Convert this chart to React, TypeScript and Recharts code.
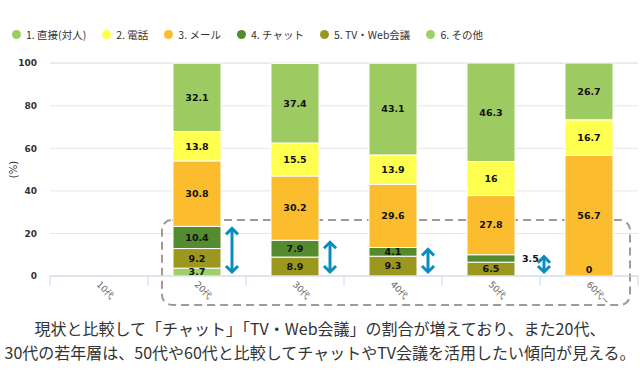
import React from 'react'
import { BarChart, Bar, XAxis, YAxis, CartesianGrid, Legend, ReferenceArea, Rectangle, LabelList } from 'recharts'

const AGE_GROUPS = ['10代', '20代', '30代', '40代', '50代', '60代~']

// series values per age group (null = no answer shown)
const FACE_TO_FACE = [null, 32.1, 37.4, 43.1, 46.3, 26.7]
const PHONE = [null, 13.8, 15.5, 13.9, 16, 16.7]
const MAIL = [null, 30.8, 30.2, 29.6, 27.8, 56.7]
const CHAT = [null, 10.4, 7.9, 4.1, 3.5, null]
const VIDEO = [null, 9.2, 8.9, 9.3, 6.5, 0]
const OTHER = [null, 3.7, null, null, null, null]

const Y_TICKS = [0, 20, 40, 60, 80, 100]

const CAPTION = [
  '現状と比較して「チャット」「TV・Web会議」の割合が増えており、また20代、',
  '30代の若年層は、50代や60代と比較してチャットやTV会議を活用したい傾向が見える。',
]

const SERIES = [
  { key: 'face', name: '1. 直接(対人)', color: '#9dcb62', values: FACE_TO_FACE },
  { key: 'phone', name: '2. 電話', color: '#ffff4f', values: PHONE },
  { key: 'mail', name: '3. メール', color: '#fbbd2d', values: MAIL },
  { key: 'chat', name: '4. チャット', color: '#548b2e', values: CHAT },
  { key: 'video', name: '5. TV・Web会議', color: '#9c981f', values: VIDEO },
  { key: 'other', name: '6. その他', color: '#9fd067', values: OTHER },
]

const data = AGE_GROUPS.map((age, i) => {
  const row: any = { age }
  SERIES.forEach((s) => { row[s.key] = s.values[i] })
  return row
})

const CHART_W = 640
const CHART_H = 316
const MARGIN = { top: 43, right: 2, bottom: 0, left: 8 }
const Y_AXIS_W = 42
const BAND = (CHART_W - MARGIN.left - MARGIN.right - Y_AXIS_W) / AGE_GROUPS.length

const AXIS_COLOR = '#ccd6eb'
const ARROW_COLOR = '#0b8cc1'

function ValueText({ x, y, anchor = 'middle', children }: any) {
  return (
    <text x={x} y={y} dy="0.35em" textAnchor={anchor} fontSize={9.5} fontWeight="bold" fill="#111"
      fontFamily="DejaVu Sans">
      {children}
    </text>
  )
}

function SegmentLabel(props: any) {
  const { x, y, width, height, value } = props
  // zero values are drawn by the segment above them (see MailShape)
  if (value == null || value === 0 || Number.isNaN(x)) return null
  if (Math.abs(height) < 7.6) return <ValueText x={x + width + 7} y={y + height / 2} anchor="start">{value}</ValueText>
  return <ValueText x={x + width / 2} y={y + height / 2}>{value}</ValueText>
}

function Arrow({ x, y1, y2 }: { x: number; y1: number; y2: number }) {
  return (
    <g stroke={ARROW_COLOR} strokeWidth={3} fill="none">
      <line x1={x} x2={x} y1={y1 + 1} y2={y2 - 1} />
      <polyline points={`${x - 6},${y1 + 6} ${x},${y1} ${x + 6},${y1 + 6}`} />
      <polyline points={`${x - 6},${y2 - 6} ${x},${y2} ${x + 6},${y2 - 6}`} />
    </g>
  )
}

// chat segment + the blue arrow showing the chat/TV share from the baseline
function ChatShape(props: any) {
  const { x, y, width, height, payload, fill } = props
  const value = payload?.chat
  const rect = <Rectangle x={x} y={y} width={width} height={height} fill={fill} stroke="#fff" strokeWidth={1} />
  if (!value) return rect
  const unit = height / value
  const below = (payload.video ?? 0) + (payload.other ?? 0)
  const base = y + height + below * unit
  const ax = x + width + (height < 7.6 ? 29 : 11)
  return (
    <g>
      {rect}
      <Arrow x={ax} y1={y + 2} y2={base - 4} />
    </g>
  )
}

// mail segment; also shows a zero TV/Web value sitting right under it
function MailShape(props: any) {
  const { x, y, width, height, payload, fill } = props
  return (
    <g>
      <Rectangle x={x} y={y} width={width} height={height} fill={fill} stroke="#fff" strokeWidth={1} />
      {payload?.video === 0 && <ValueText x={x + width / 2} y={y + height - 6}>{payload.video}</ValueText>}
    </g>
  )
}

function AgeTick(props: any) {
  const { x, y, payload, index } = props
  const last = index === AGE_GROUPS.length - 1
  return (
    <g>
      <line x1={x - BAND / 2} x2={x - BAND / 2} y1={y} y2={y + 10} stroke={AXIS_COLOR} />
      {last && <line x1={x + BAND / 2} x2={x + BAND / 2} y1={y} y2={y + 10} stroke={AXIS_COLOR} />}
      <text x={x - 3} y={y + 9} transform={`rotate(45 ${x - 3} ${y + 9})`} fontSize={9} fill="#666"
        textAnchor="start" fontFamily="DejaVu Sans">
        {payload.value}
      </text>
    </g>
  )
}

function FocusBox(props: any) {
  const { x, y, width, height } = props
  return (
    <rect x={x + 14} y={y} width={width - 22} height={height} rx={10} ry={10} fill="none"
      stroke="#a59a92" strokeWidth={2} strokeDasharray="8 5" />
  )
}

function LegendRow() {
  return (
    <div style={{ display: 'flex', alignItems: 'center', gap: 16, height: 20, whiteSpace: 'nowrap' }}>
      {SERIES.map((s) => (
        <div key={s.key} style={{ display: 'flex', alignItems: 'center', gap: 5 }}>
          <span style={{ width: 9, height: 9, borderRadius: '50%', background: s.color, display: 'inline-block' }} />
          <span style={{ fontSize: 10.5, color: '#333', fontFamily: '"Noto Sans CJK JP"' }}>{s.name}</span>
        </div>
      ))}
    </div>
  )
}

const shapeFor = (key: string) => {
  if (key === 'chat') return (p: any) => <ChatShape {...p} />
  if (key === 'mail') return (p: any) => <MailShape {...p} />
  return undefined
}

export default function App() {
  return (
    <div style={{ width: CHART_W, fontFamily: '"DejaVu Sans", sans-serif', background: '#fff' }}>
      <style>{'body{margin:0}'}</style>
      <BarChart width={CHART_W} height={CHART_H} data={data} margin={MARGIN} barSize={48}>
        <CartesianGrid vertical={false} stroke="#e6e6e6" />
        <XAxis dataKey="age" height={CHART_H - 276} interval={0} tickLine={false} tickSize={0} tickMargin={0}
          stroke={AXIS_COLOR} tick={<AgeTick />} />
        <YAxis domain={[0, 100]} ticks={Y_TICKS} width={Y_AXIS_W} axisLine={false} tickLine={false}
          tickSize={6} tickMargin={7} tick={{ fontSize: 9, fill: '#333', fontWeight: 'bold' }}
          label={(p: any) => {
            const vb = p.viewBox
            const lx = vb.x + 5.5
            const ly = vb.y + vb.height / 2
            return (
              <text x={lx} y={ly} transform={`rotate(-90 ${lx} ${ly})`} textAnchor="middle" dy="0.35em"
                fontSize={10} fill="#333">(%)</text>
            )
          }} />
        <Legend verticalAlign="top" align="left" wrapperStyle={{ top: 24, left: 12, width: 'auto' }}
          content={() => <LegendRow />} />
        {[...SERIES].reverse().map((s) => (
          <Bar key={s.key} dataKey={s.key} name={s.name} stackId="a" fill={s.color} stroke="#fff" strokeWidth={1}
            isAnimationActive={false} shape={shapeFor(s.key)}>
            <LabelList dataKey={s.key} content={(p: any) => <SegmentLabel {...p} />} />
          </Bar>
        ))}
        <ReferenceArea x1="20代" x2="60代~" y1={-13.6} y2={26.3} ifOverflow="visible" shape={<FocusBox />} />
      </BarChart>
      <div style={{ fontFamily: '"Noto Sans CJK JP"', fontSize: 16, lineHeight: '24px', color: '#333',
        textAlign: 'center', whiteSpace: 'nowrap' }}>
        {CAPTION.map((line) => <div key={line}>{line}</div>)}
      </div>
    </div>
  )
}
